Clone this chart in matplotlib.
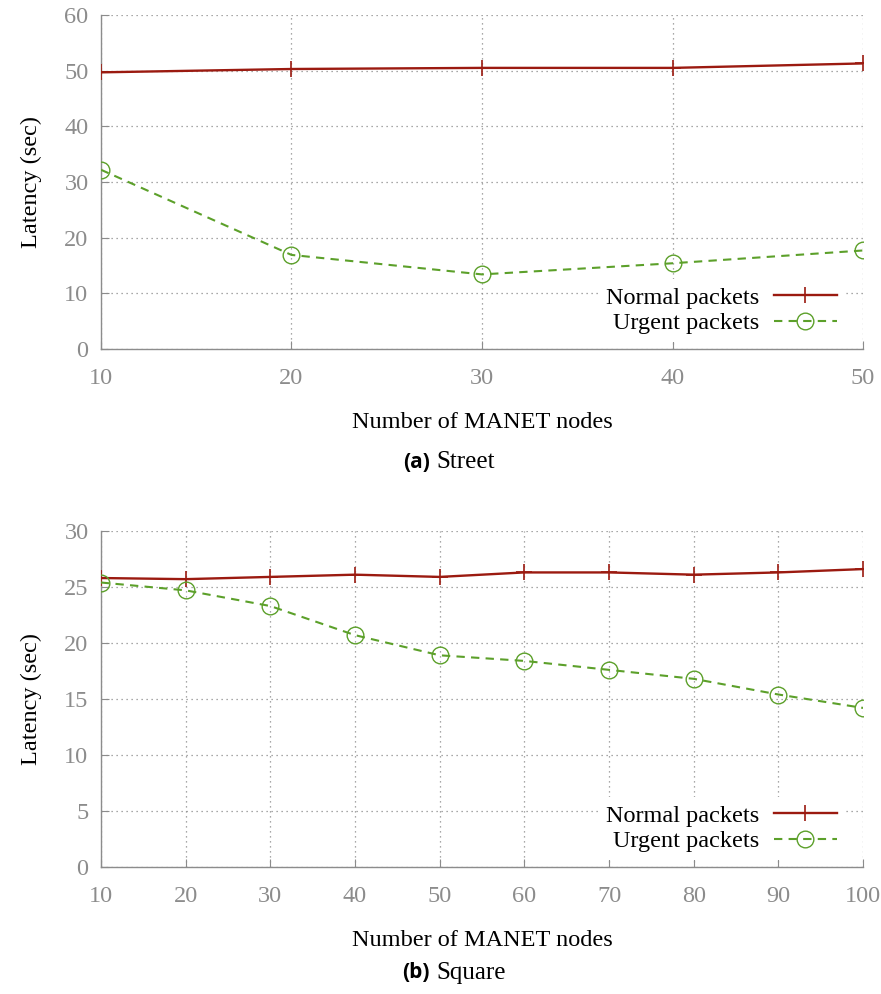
"""Latency vs number of MANET nodes, street and square scenarios (gnuplot look)."""

import matplotlib
matplotlib.use("Agg")
import matplotlib.pyplot as plt

# ------------------------------
# Data
# ------------------------------

street_nodes = [10, 20, 30, 40, 50]
street_normal = [49.7, 50.3, 50.5, 50.5, 51.3]
street_urgent = [32.2, 16.9, 13.4, 15.4, 17.7]

square_nodes = [10, 20, 30, 40, 50, 60, 70, 80, 90, 100]
square_normal = [25.8, 25.7, 25.9, 26.1, 25.9, 26.3, 26.3, 26.1, 26.3, 26.6]
square_urgent = [25.4, 24.7, 23.3, 20.7, 18.9, 18.4, 17.6, 16.8, 15.4, 14.2]

# ------------------------------
# Style
# ------------------------------

plt.rcParams["font.family"] = ["Liberation Serif", "DejaVu Serif"]

RED = "#9b1a10"
GREEN = "#5ca02a"
GRAY = "#8c8c8c"
FS = 17.5


def panel(ax, x, normal, urgent, ylim, ystep, xticks):
    ax.plot(x, normal, color=RED, lw=1.7, marker="+", ms=11.5, mew=1.2,
            label="Normal packets", zorder=3)
    ax.plot(x, urgent, color=GREEN, lw=1.5, ls=(0, (4, 3)), marker="o", ms=12,
            mfc="none", mec=GREEN, mew=1.0, label="Urgent packets", zorder=3)
    ax.set_xlim(x[0], x[-1])
    ax.set_ylim(*ylim)
    ax.set_xticks(xticks)
    ax.set_yticks(range(ylim[0], ylim[1] + 1, ystep))
    ax.grid(True, ls=(0, (1, 3)), color=GRAY, lw=0.9)
    ax.set_axisbelow(True)
    for s in ("top", "right"):
        ax.spines[s].set_visible(False)
    for s in ("left", "bottom"):
        ax.spines[s].set_color(GRAY)
        ax.spines[s].set_linewidth(1.0)
    ax.tick_params(direction="in", length=6, color=GRAY, labelcolor=GRAY,
                   labelsize=FS)
    ax.tick_params(axis="x", pad=14)
    ax.tick_params(axis="y", pad=9)
    ax.set_xlabel("Number of MANET nodes", fontsize=FS, labelpad=16)
    ax.set_ylabel("Latency (sec)", fontsize=FS, labelpad=16)
    leg = ax.legend(loc="lower right", bbox_to_anchor=(0.985, 0.0),
                    markerfirst=False, fontsize=FS, frameon=True,
                    handlelength=2.6, handletextpad=0.6, labelspacing=0.15,
                    borderpad=0.3, borderaxespad=0.3)
    leg.get_frame().set_edgecolor("none")
    leg.get_frame().set_facecolor("white")
    leg.get_frame().set_alpha(1.0)


fig = plt.figure(figsize=(8.81, 9.94), dpi=100)

ax1 = fig.add_axes([0.1146, 0.6489, 0.865, 0.336])
panel(ax1, street_nodes, street_normal, street_urgent, (0, 60), 10, street_nodes)

ax2 = fig.add_axes([0.1146, 0.1278, 0.865, 0.338])
panel(ax2, square_nodes, square_normal, square_urgent, (0, 30), 5, square_nodes)

# captions
for label, name, y in (("(a)", "Street", 1 - 462 / 994), ("(b)", "Square", 1 - 973 / 994)):
    fig.text(0.488, y, label, ha="right", va="center", fontsize=15,
             fontweight="bold", family=["Open Sans", "DejaVu Sans"])
    fig.text(0.495, y, name, ha="left", va="center", fontsize=FS + 0.5)

fig.savefig("out.png", dpi=100)
